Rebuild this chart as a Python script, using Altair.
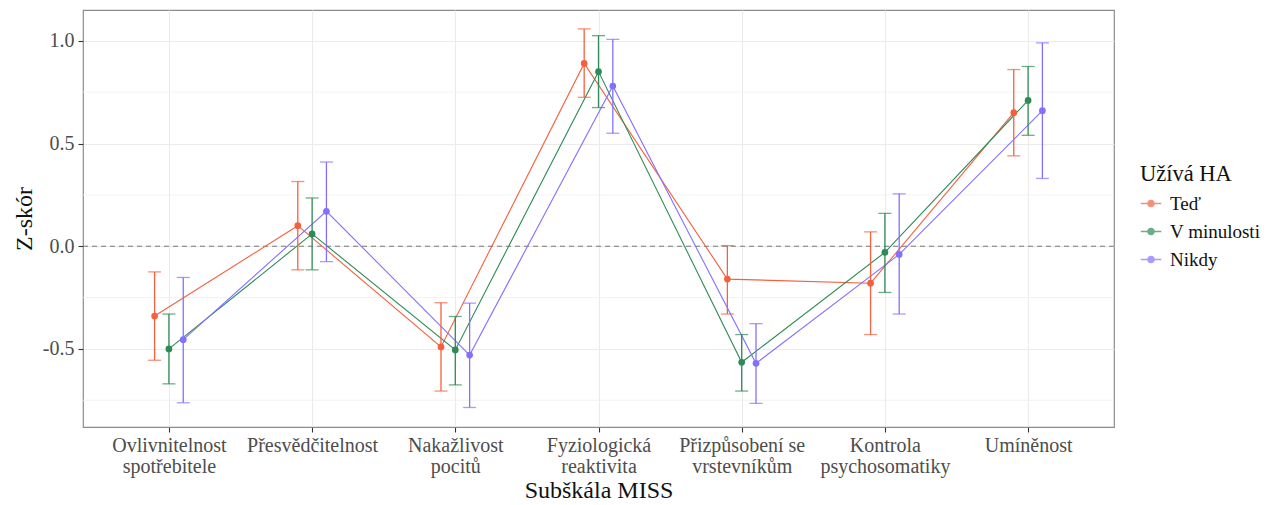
import altair as alt
import pandas as pd

categories = ["Ovlivnitelnost|spotřebitele", "Přesvědčitelnost", "Nakažlivost|pocitů",
              "Fyziologická|reaktivita", "Přizpůsobení se|vrstevníkům", "Kontrola|psychosomatiky",
              "Umíněnost"]
groups = ["Teď", "V minulosti", "Nikdy"]
colors = ["#F4613F", "#2E8B57", "#8470FF"]

ted_mean = [-0.34, 0.10, -0.49, 0.89, -0.16, -0.18, 0.65]
ted_lo = [-0.555, -0.115, -0.705, 0.725, -0.33, -0.43, 0.44]
ted_hi = [-0.125, 0.315, -0.275, 1.058, 0.003, 0.07, 0.86]

min_mean = [-0.50, 0.06, -0.505, 0.85, -0.565, -0.03, 0.71]
min_lo = [-0.67, -0.115, -0.675, 0.675, -0.705, -0.225, 0.54]
min_hi = [-0.33, 0.235, -0.342, 1.025, -0.43, 0.16, 0.875]

nik_mean = [-0.455, 0.17, -0.53, 0.78, -0.57, -0.04, 0.66]
nik_lo = [-0.762, -0.075, -0.785, 0.55, -0.765, -0.33, 0.33]
nik_hi = [-0.152, 0.41, -0.277, 1.007, -0.377, 0.255, 0.99]

y_major = [-0.5, 0.0, 0.5, 1.0]
y_minor = [-0.75, -0.25, 0.25, 0.75]

dodge = 0.1
rows = []
for gi, (g, means, los, his) in enumerate(zip(groups,
                                              [ted_mean, min_mean, nik_mean],
                                              [ted_lo, min_lo, nik_lo],
                                              [ted_hi, min_hi, nik_hi])):
    for ci, c in enumerate(categories):
        rows.append({"grp": g, "gi": gi, "cat": c,
                     "x": ci + (gi - 1) * dodge,
                     "mean": means[ci], "lo": los[ci], "hi": his[ci]})
df = pd.DataFrame(rows)

FONT = "Liberation Serif"
label_js = "[" + ",".join("'" + c + "'" for c in categories) + "]"

x_enc = alt.X("x:Q",
              scale=alt.Scale(domain=[-0.6, 6.6], nice=False, zero=False),
              axis=alt.Axis(values=list(range(len(categories))),
                            labelExpr="split(" + label_js + "[round(datum.value)], '|')",
                            title="Subškála MISS", grid=True))
y_scale = alt.Scale(domain=[-0.88, 1.15], nice=False, zero=False)
y_axis = alt.Axis(values=y_major, title="Z-skór", grid=True,
                  labelExpr="replace(format(datum.value, '.1f'), '\u2212', '-')")

color = alt.Color("grp:N", scale=alt.Scale(domain=groups, range=colors),
                  legend=alt.Legend(title="Užívá HA", orient="none", legendX=1057, legendY=153,
                                    symbolType="M-1,0H1M-0.3,0a0.3,0.3 0 1,0 0.6,0a0.3,0.3 0 1,0 -0.6,0"
                                               "M-0.18,0a0.18,0.18 0 1,0 0.36,0a0.18,0.18 0 1,0 -0.36,0"
                                               "M-0.07,0a0.07,0.07 0 1,0 0.14,0a0.07,0.07 0 1,0 -0.14,0",
                                    symbolSize=420, symbolStrokeWidth=1.4,
                                    labelFontSize=19, titleFontSize=22.5, labelFont=FONT, titleFont=FONT,
                                    titleFontWeight="normal", labelColor="#111", titleColor="#111",
                                    rowPadding=7, titlePadding=7, labelOffset=8))

base = alt.Chart(df)

minor = alt.Chart(pd.DataFrame({"v": y_minor})).mark_rule(color="#f0f0f0", strokeWidth=0.8).encode(
    y=alt.Y("v:Q", scale=y_scale, axis=y_axis))

zero = alt.Chart(pd.DataFrame({"v": [0.0]})).mark_rule(color="#777", strokeDash=[5, 4], strokeWidth=1).encode(
    y=alt.Y("v:Q", scale=y_scale))

lines = base.mark_line(strokeWidth=1.1).encode(x=x_enc, y=alt.Y("mean:Q", scale=y_scale, axis=y_axis),
                                               color=color, order="x:Q", detail="grp:N")
bars = base.mark_rule(strokeWidth=1.3).encode(x=x_enc, y=alt.Y("lo:Q", scale=y_scale), y2="hi:Q", color=color)
cap_lo = base.mark_tick(orient="horizontal", size=13, thickness=1.3).encode(
    x=x_enc, y=alt.Y("lo:Q", scale=y_scale), color=color)
cap_hi = base.mark_tick(orient="horizontal", size=13, thickness=1.3).encode(
    x=x_enc, y=alt.Y("hi:Q", scale=y_scale), color=color)
points = base.mark_circle(size=45, opacity=1).encode(x=x_enc, y=alt.Y("mean:Q", scale=y_scale), color=color)

chart = alt.layer(minor, zero, lines, bars, cap_lo, cap_hi, points).properties(
    width=1031, height=417,
    autosize=alt.AutoSizeParams(type="none"),
    padding={"left": 83, "top": 10, "right": 165, "bottom": 78},
).configure_view(stroke="#8c8c8c", strokeWidth=1.2).configure_axis(
    labelFont=FONT, titleFont=FONT, labelFontSize=20, titleFontSize=24,
    labelColor="#4d4d4d", titleColor="#111", titleFontWeight="normal",
    gridColor="#ebebeb", gridWidth=1.1, domain=False,
    tickColor="#333", tickSize=5, tickWidth=1.1, labelPadding=3,
).configure_axisX(labelLineHeight=21, titlePadding=2, labelBaseline="top"
).configure_axisY(titlePadding=6, labelPadding=4)

chart.save("out.html", embed_options={"renderer": "svg", "actions": False})
